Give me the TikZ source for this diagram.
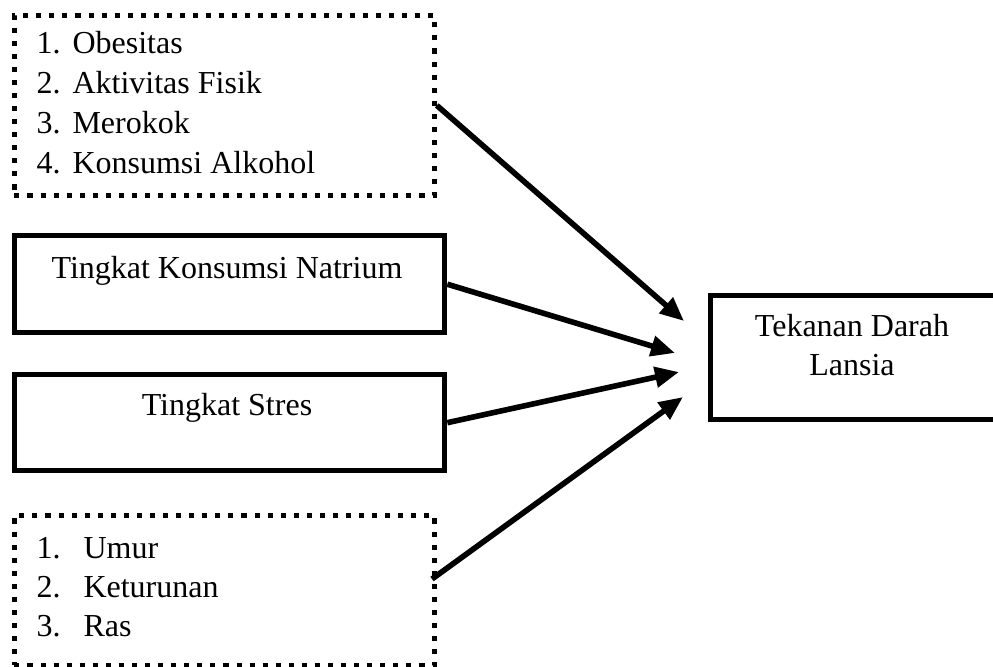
\documentclass[tikz,border=0pt]{standalone}
\usepackage{fontspec}
\setmainfont{Liberation Serif}
\usetikzlibrary{arrows.meta}
\begin{document}
\begin{tikzpicture}[x=0.375pt,y=-0.375pt,
  solidbox/.style={draw,line width=2pt,inner sep=0pt,anchor=north west},
  dotbox/.style={draw,line width=1.8pt,dash pattern=on 1.9pt off 3pt,inner sep=0pt,anchor=north west},
  txt/.style={anchor=base,inner sep=0pt,font=\fontsize{12pt}{14pt}\selectfont},
  ltxt/.style={anchor=base west,inner sep=0pt,font=\fontsize{12pt}{14pt}\selectfont},
  arr/.style={line width=2.1pt,-{Triangle[length=9pt,width=7.5pt]}}]
\useasboundingbox (0,0) rectangle (993,666);
% boxes
\node[dotbox,minimum width=157.5pt,minimum height=67.5pt] (b1) at (12,13) {};
\node[solidbox,minimum width=161.25pt,minimum height=36.4pt] (b2) at (12,233) {};
\node[solidbox,minimum width=161.25pt,minimum height=36pt] (b3) at (12,372) {};
\node[dotbox,minimum width=157.5pt,minimum height=56.25pt] (b4) at (12,513) {};
\node[solidbox,minimum width=115pt,minimum height=46.5pt] (b5) at (708,293) {};
% texts box 1
\node[ltxt] (n11) at (36,53) {1.};
\node[ltxt] (t11) at (72,53) {Obesitas};
\node[ltxt] (n12) at (36,93) {2.};
\node[ltxt] (t12) at (72,93) {Aktivitas Fisik};
\node[ltxt] (n13) at (36,133) {3.};
\node[ltxt] (t13) at (72,133) {Merokok};
\node[ltxt] (n14) at (36,173) {4.};
\node[ltxt] (t14) at (72,173) {Konsumsi Alkohol};
% texts box 2, 3
\node[txt] (t2) at (227,278) {Tingkat Konsumsi Natrium};
\node[txt] (t3) at (227,415) {Tingkat Stres};
% texts box 4
\node[ltxt] (n41) at (36,558) {1.};
\node[ltxt] (t41) at (83,558) {Umur};
\node[ltxt] (n42) at (36,597) {2.};
\node[ltxt] (t42) at (83,597) {Keturunan};
\node[ltxt] (n43) at (36,636) {3.};
\node[ltxt] (t43) at (83,636) {Ras};
% target text
\node[txt] (t51) at (852,336) {Tekanan Darah};
\node[txt] (t52) at (852,375) {Lansia};
% arrow ends
\coordinate (s4) at (432,579);
\coordinate (e1) at (684,321);
\coordinate (e2) at (675,353);
\coordinate (e3) at (679,372);
\coordinate (e4) at (683,397);
\draw[arr] (b1.east) -- (e1);
\draw[arr] (b2.east) -- (e2);
\draw[arr] (b3.east) -- (e3);
\draw[arr] (s4) -- (e4);
\end{tikzpicture}
\end{document}
